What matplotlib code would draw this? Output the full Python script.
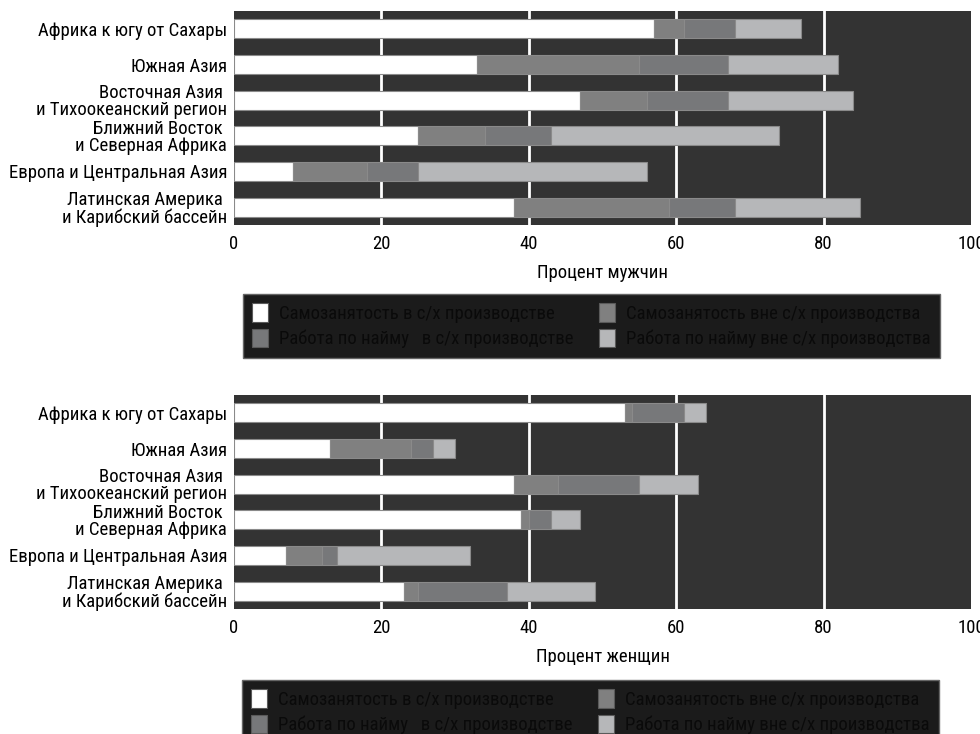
import matplotlib
matplotlib.use("Agg")
import matplotlib.pyplot as plt
from matplotlib import font_manager
import numpy as np

regions = ["Африка к югу от Сахары", "Южная Азия",
           "Восточная Азия \nи Тихоокеанский регион",
           "Ближний Восток \nи Северная Африка",
           "Европа и Центральная Азия",
           "Латинская Америка \nи Карибский бассейн"]

series_names = ["Самозанятость в с/х производстве",
                "Самозанятость вне с/х производства",
                "Работа по найму   в с/х производстве",
                "Работа по найму вне с/х производства"]

# men
men_self_agri = [57, 33, 47, 25, 8, 38]
men_self_nonagri = [4, 22, 9, 9, 10, 21]
men_wage_agri = [7, 12, 11, 9, 7, 9]
men_wage_nonagri = [9, 15, 17, 31, 31, 17]

# women
women_self_agri = [53, 13, 38, 39, 7, 23]
women_self_nonagri = [1, 11, 6, 1, 5, 2]
women_wage_agri = [7, 3, 11, 3, 2, 12]
women_wage_nonagri = [3, 3, 8, 4, 18, 12]

xticks = [0, 20, 40, 60, 80, 100]
xlabels = ["Процент мужчин", "Процент женщин"]

colors = ["#ffffff", "#808080", "#77787a", "#b6b7b9"]

available = {f.name for f in font_manager.fontManager.ttflist}
fam = None
for cand in ["Liberation Sans Narrow", "Roboto Condensed", "DejaVu Sans Condensed", "Liberation Sans"]:
    if cand in available:
        fam = cand
        break
plt.rcParams["font.family"] = [fam, "DejaVu Sans"]

FS = 13.5

fig = plt.figure(figsize=(9.8, 7.34), dpi=100)

def panel(rect, data, xlabel, legend_anchor):
    ax = fig.add_axes(rect)
    ax.set_facecolor("#333333")
    y = np.arange(len(regions))
    left = np.zeros(len(regions))
    handles = []
    for vals, c, name in zip(data, colors, series_names):
        b = ax.barh(y, vals, left=left, height=0.53, color=c,
                    edgecolor="#8a8a8a", linewidth=0.8, label=name, zorder=3)
        handles.append(b)
        left = left + np.array(vals)
    ax.set_xlim(0, 100)
    ax.set_ylim(5.5, -0.5)
    ax.set_yticks(y)
    ax.set_yticklabels(regions, fontsize=FS, linespacing=0.95)
    ax.set_xticks(xticks)
    ax.set_xticklabels([str(t) for t in xticks], fontsize=FS)
    ax.tick_params(axis="y", length=0, pad=5)
    ax.tick_params(axis="x", length=0, pad=7)
    for s in ax.spines.values():
        s.set_visible(False)
    ax.set_axisbelow(True)
    for t in [20, 40, 60, 80]:
        ax.axvline(t, color="white", lw=2, zorder=1)
    ax.set_xlabel(xlabel, fontsize=FS, labelpad=8)
    order = [0, 2, 1, 3]
    leg = fig.legend([handles[i] for i in order], [series_names[i] for i in order],
                     ncol=2, loc="upper left", bbox_to_anchor=legend_anchor,
                     fontsize=FS, frameon=True, fancybox=False,
                     facecolor="#1b1b1b", edgecolor="#666666", framealpha=1,
                     handlelength=0.85, handleheight=1.15, handletextpad=0.55,
                     borderpad=0.5, labelspacing=0.3, columnspacing=1.4,
                     borderaxespad=0)
    for t in leg.get_texts():
        t.set_color("#0a0a0a")
    for h in leg.legend_handles:
        h.set_edgecolor("#5a5a5a")
    leg.get_frame().set_linewidth(1.0)
    return ax

panel([234/980, 1 - 225/734, 737/980, 214/734],
      [men_self_agri, men_self_nonagri, men_wage_agri, men_wage_nonagri],
      xlabels[0], (243/980, 1 - 294/734))
panel([234/980, 1 - 609/734, 737/980, 214/734],
      [women_self_agri, women_self_nonagri, women_wage_agri, women_wage_nonagri],
      xlabels[1], (242/980, 1 - 680/734))

fig.savefig("out.png", dpi=100, facecolor="white")
